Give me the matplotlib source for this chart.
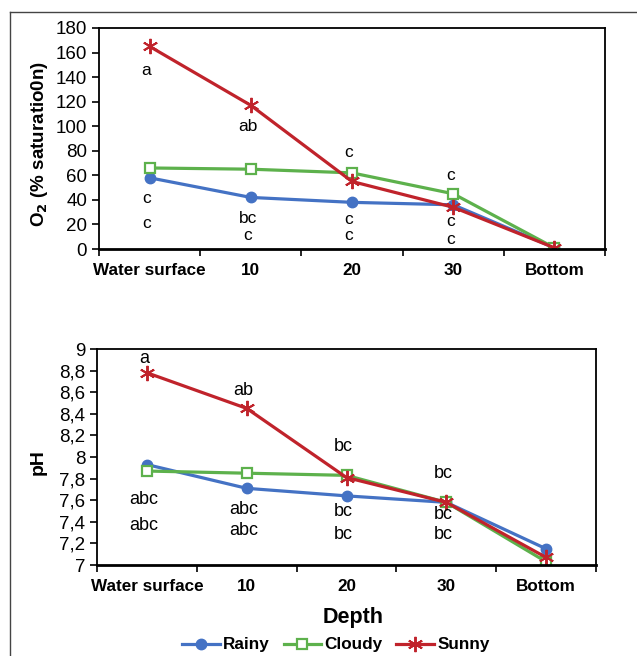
"""Dissolved O2 and pH by depth under three weather conditions."""

import matplotlib
matplotlib.use("Agg")
import matplotlib.pyplot as plt
from matplotlib.lines import Line2D

plt.rcParams["font.family"] = ["Liberation Sans", "DejaVu Sans"]

# ---- data ----------------------------------------------------------------
depths = ["Water surface", "10", "20", "30", "Bottom"]

o2_rainy = [58, 42, 38, 36, 1]
o2_cloudy = [66, 65, 62, 45, 1]
o2_sunny = [165, 117, 55, 34, 1]

ph_rainy = [7.93, 7.71, 7.64, 7.58, 7.15]
ph_cloudy = [7.87, 7.85, 7.83, 7.58, 7.03]
ph_sunny = [8.78, 8.45, 7.81, 7.58, 7.07]

# significance letters: (category index, y, text)
o2_letters = [(0, 145, "a"), (1, 100, "ab"), (2, 79, "c"), (3, 60, "c"),
              (0, 41, "c"), (0, 21, "c"), (1, 25, "bc"), (1, 11, "c"),
              (2, 24, "c"), (2, 11, "c"), (3, 22.5, "c"), (3, 8, "c")]
ph_letters = [(0, 8.91, "a"), (1, 8.62, "ab"), (2, 8.10, "bc"), (3, 7.85, "bc"),
              (0, 7.61, "abc"), (0, 7.37, "abc"), (1, 7.51, "abc"), (1, 7.32, "abc"),
              (2, 7.50, "bc"), (2, 7.28, "bc"), (3, 7.47, "bc"), (3, 7.28, "bc")]

blue, green, red = "#4472C4", "#5DB14C", "#C0232B"


def draw_series(ax, rainy, cloudy, sunny):
    x = range(len(depths))
    ax.plot(x, rainy, color=blue, lw=2.3, marker="o", ms=7.5, label="Rainy")
    ax.plot(x, cloudy, color=green, lw=2.3, marker="s", ms=7.5, mfc="white",
            mew=1.6, label="Cloudy")
    ax.plot(x, sunny, color=red, lw=2.3, marker=(6, 2, 0), ms=11, mew=1.4,
            label="Sunny")


def style_axes(ax):
    ax.set_xlim(-0.5, len(depths) - 0.5)
    ax.set_xticks([i - 0.5 for i in range(len(depths) + 1)])
    ax.set_xticklabels([])
    ax.set_xticks(range(len(depths)), minor=True)
    ax.set_xticklabels(depths, minor=True, fontweight="bold", fontsize=12.3)
    ax.tick_params(axis="x", which="minor", length=0, pad=10)
    ax.tick_params(axis="x", which="major", length=5, width=1.2)
    ax.tick_params(axis="y", length=5, width=1.2, labelsize=13.5)
    for sp in ax.spines.values():
        sp.set_linewidth(1.3)
    ax.spines["bottom"].set_linewidth(2)


fig = plt.figure(figsize=(6.37, 6.56), dpi=100)

# outer frame
fig.add_artist(Line2D([10 / 637, 1], [1 - 12 / 656] * 2, color="#444444", lw=1))
fig.add_artist(Line2D([10 / 637] * 2, [0, 1 - 12 / 656], color="#444444", lw=1))

# ---- O2 panel ------------------------------------------------------------
ax1 = fig.add_axes([99 / 637, 1 - 249 / 656, 506 / 637, 221 / 656])
draw_series(ax1, o2_rainy, o2_cloudy, o2_sunny)
ax1.set_ylim(0, 180)
ax1.set_yticks(range(0, 181, 20))
style_axes(ax1)
for i, y, t in o2_letters:
    ax1.text(i - 0.03, y, t, ha="center", va="center", fontsize=12.5)
fig.text(40 / 637, 1 - 144 / 656, r"O$_\mathbf{2}$ (% saturatio0n)",
         rotation=90, ha="center", va="center", fontsize=13.5, fontweight="bold")

# ---- pH panel ------------------------------------------------------------
ax2 = fig.add_axes([97 / 637, 1 - 565 / 656, 499 / 637, 216 / 656])
draw_series(ax2, ph_rainy, ph_cloudy, ph_sunny)
ax2.set_ylim(7, 9)
ph_ticks = [round(7 + 0.2 * k, 1) for k in range(11)]
ax2.set_yticks(ph_ticks)
ax2.set_yticklabels([str(int(v)) if v == int(v) else f"{v:.1f}".replace(".", ",")
                     for v in ph_ticks])
style_axes(ax2)
for i, y, t in ph_letters:
    ax2.text(i - 0.03, y, t, ha="center", va="center", fontsize=13)
fig.text(38 / 637, 1 - 462 / 656, "pH", rotation=90, ha="center", va="center",
         fontsize=14, fontweight="bold")

fig.text(353 / 637, 1 - 617 / 656, "Depth", ha="center", va="center",
         fontsize=15.5, fontweight="bold")

handles, labels = ax2.get_legend_handles_labels()
fig.legend(handles, labels, loc="center", bbox_to_anchor=(336 / 637, 1 - 645 / 656),
           ncol=3, frameon=False, handlelength=2.2, handletextpad=0.2,
           columnspacing=0.8, prop={"weight": "bold", "size": 12.3})

fig.savefig("out.png", dpi=100)
